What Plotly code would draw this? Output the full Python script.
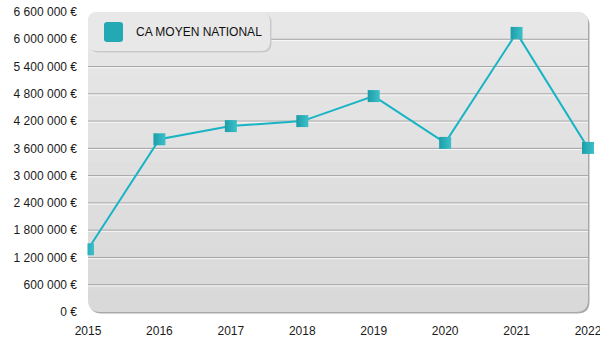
import plotly.graph_objects as go

# Chiffre d'affaires moyen national par année
annees = [2015, 2016, 2017, 2018, 2019, 2020, 2021, 2022]
ca_moyen = [1380000, 3800000, 4090000, 4200000, 4750000, 3720000, 6140000, 3610000]
serie_nom = "CA MOYEN NATIONAL"

y_max = 6600000
y_pas = 600000
y_ticks = list(range(0, y_max + 1, y_pas))

# Plot area geometry (pixels)
W, H = 600, 350
L, R, T, B = 88, 12, 12, 38
PW, PH = W - L - R, H - T - B


def px(xp):
    return (xp - L) / PW


def py(yp):
    return (H - B - yp) / PH


def rrect(x0, y0, x1, y1, r, top=True, bottom=True):
    """Rounded rectangle path in paper units from pixel coordinates."""
    rt = r if top else 0
    rb = r if bottom else 0
    pts = []
    pts.append(f"M{px(x0 + rt)},{py(y0)}")
    pts.append(f"L{px(x1 - rt)},{py(y0)}")
    pts.append(f"Q{px(x1)},{py(y0)} {px(x1)},{py(y0 + rt)}")
    pts.append(f"L{px(x1)},{py(y1 - rb)}")
    pts.append(f"Q{px(x1)},{py(y1)} {px(x1 - rb)},{py(y1)}")
    pts.append(f"L{px(x0 + rb)},{py(y1)}")
    pts.append(f"Q{px(x0)},{py(y1)} {px(x0)},{py(y1 - rb)}")
    pts.append(f"L{px(x0)},{py(y0 + rt)}")
    pts.append(f"Q{px(x0)},{py(y0)} {px(x0 + rt)},{py(y0)}")
    return " ".join(pts) + " Z"


shapes = []
# drop shadow of the plot panel
shapes.append(dict(type="path", xref="paper", yref="paper", layer="below",
                   path=rrect(L + 1.5, T + 1.5, W - R + 1.5, H - B + 1.5, 12),
                   fillcolor="#a9a9a9", line=dict(width=0)))
# panel with a vertical gray gradient (stacked opaque bands)
n_bands = 14
top_c, bot_c = 0xE7, 0xD9
for i in range(n_bands):
    frac = i / n_bands
    y_bot = (H - B) - frac * PH
    c = round(bot_c + (top_c - bot_c) * i / (n_bands - 1))
    shapes.append(dict(type="path", xref="paper", yref="paper", layer="below",
                       path=rrect(L, T, W - R, y_bot, 12, top=True, bottom=(i == 0)),
                       fillcolor=f"rgb({c},{c},{c})", line=dict(width=0)))

# gridlines: dark line with a light highlight just below
for v in y_ticks[1:-1]:
    shapes.append(dict(type="line", xref="paper", yref="y", layer="below",
                       x0=0, x1=1, y0=v, y1=v, line=dict(color="#a3a3a3", width=1)))
    shapes.append(dict(type="line", xref="paper", yref="y", layer="below",
                       ysizemode="pixel", yanchor=v, x0=0, x1=1, y0=-1.2, y1=-1.2,
                       line=dict(color="#f7f7f7", width=1)))

# left edge mask so the first marker sits under the panel border
shapes.append(dict(type="rect", xref="paper", yref="paper", layer="above",
                   x0=px(79), x1=px(87.5), y0=py(H - B + 2), y1=py(T + 45),
                   fillcolor="white", line=dict(width=0)))

# legend box
shapes.append(dict(type="path", xref="paper", yref="paper", layer="above",
                   path=rrect(L + 1.5, T + 1.5, 271.5, 52.5, 9),
                   fillcolor="#c9c9c9", line=dict(width=0)))
shapes.append(dict(type="path", xref="paper", yref="paper", layer="above",
                   path=rrect(L, T, 270, 51, 9),
                   fillcolor="#e8e8e8", line=dict(width=0)))
shapes.append(dict(type="path", xref="paper", yref="paper", layer="above",
                   path=rrect(104, 22, 123, 42, 3),
                   fillcolor="#22a9b4", line=dict(width=0)))

fig = go.Figure()
fig.add_trace(go.Scatter(
    x=annees, y=ca_moyen, name=serie_nom, mode="lines+markers",
    line=dict(color="#18b4c4", width=2),
    marker=dict(symbol="square", size=12, color="#1c9ea9",
                gradient=dict(type="horizontal", color="#3ec0ca"),
                line=dict(width=0)),
    cliponaxis=False, showlegend=False,
))

fig.update_layout(
    width=W, height=H,
    margin=dict(l=L, r=R, t=T, b=B, autoexpand=False),
    paper_bgcolor="white", plot_bgcolor="rgba(0,0,0,0)",
    separators=", ",
    font=dict(family="Arial, Liberation Sans, sans-serif", size=12, color="#1a1a1a"),
    shapes=shapes,
    showlegend=False,
    annotations=[dict(text=serie_nom, xref="paper", yref="paper",
                      x=px(134), y=py(32), xanchor="left", yanchor="middle",
                      showarrow=False, font=dict(size=12, color="#111111"))],
    xaxis=dict(range=[annees[0], annees[-1]], tickmode="array", tickvals=annees,
               ticktext=[str(a) for a in annees], showgrid=False, zeroline=False,
               showline=False, ticks="", ticklabelstandoff=10,
               automargin=False, ticklabeloverflow="allow"),
    yaxis=dict(range=[0, y_max], tickmode="array", tickvals=y_ticks,
               ticktext=[f"{v:,}".replace(",", " ") + " €" for v in y_ticks],
               showgrid=False, zeroline=False, showline=False, ticks="",
               ticklabelstandoff=10, automargin=False, ticklabeloverflow="allow"),
)

fig.write_html("out.html")
